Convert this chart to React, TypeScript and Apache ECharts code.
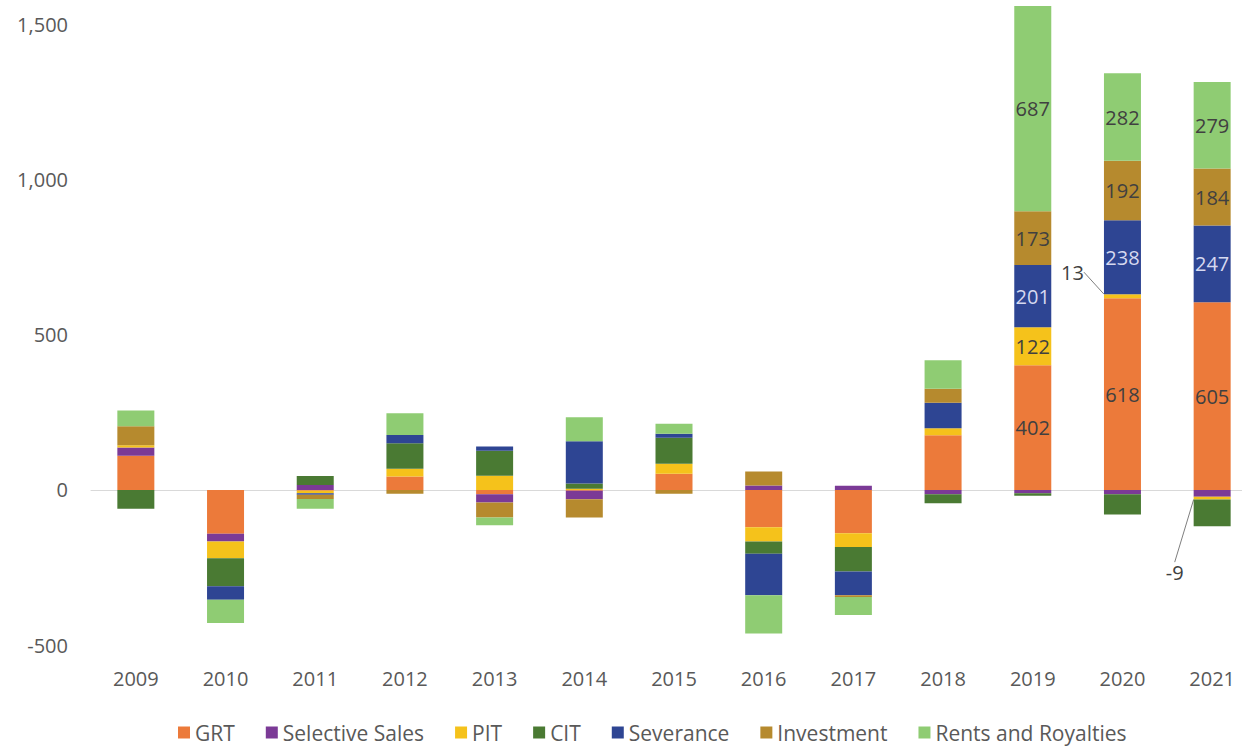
import React, { useEffect, useRef } from "react";
import * as echarts from "echarts";

const years = ["2009", "2010", "2011", "2012", "2013", "2014", "2015", "2016", "2017", "2018", "2019", "2020", "2021"];
const grt = [110, -141, -3, 43, -14, -3, 52, -120, -140, 176, 402, 618, 605];
const selectiveSales = [27, -25, 16, 0, -27, -27, 0, 14, 13, -14, -11, -14, -22];
const pit = [7, -54, -8, 25, 46, 4, 32, -46, -44, 23, 122, 13, -9];
const cit = [-61, -91, 29, 82, 80, 17, 84, -40, -79, -29, -8, -65, -86];
const severance = [0, -43, -5, 27, 14, 136, 13, -134, -77, 82, 201, 238, 247];
const investment = [61, 0, -13, -12, -48, -59, -12, 45, -5, 45, 173, 192, 184];
const rents = [51, -75, -32, 70, -25, 77, 32, -123, -58, 92, 687, 282, 279];

const seriesNames = ["GRT", "Selective Sales", "PIT", "CIT", "Severance", "Investment", "Rents and Royalties"];
const seriesValues = [grt, selectiveSales, pit, cit, severance, investment, rents];
const seriesColors = ["#EC7A3A", "#7B3A96", "#F5C21B", "#4A7A33", "#2E4593", "#B68A2E", "#8FCC73"];
const labelledSeries = [0, 2, 4, 5, 6];
const labelledYears = [10, 11, 12];

const FONT = "'Open Sans', sans-serif";

export default function App() {
  const ref = useRef<HTMLDivElement>(null);
  useEffect(() => {
    if (!ref.current) return;
    const chart = echarts.init(ref.current, null, { renderer: "svg" });
    const series = seriesNames.map((name, si) => {
      const data = seriesValues[si].map((v, i) => {
        if (!labelledSeries.includes(si) || !labelledYears.includes(i)) return v;
        if (si === 2 && i === 11) {
          return { value: v, label: { show: true, position: "left", distance: 20 }, labelLine: { show: true } };
        }
        if (si === 2 && i === 12) {
          return { value: v, label: { show: true, position: "left", distance: 10 }, labelLine: { show: true } };
        }
        return { value: v, label: { show: true } };
      });
      return {
        name,
        type: "bar",
        stack: "total",
        barWidth: 37,
        xAxisIndex: 0,
        data,
        itemStyle: { color: seriesColors[si] },
        label: {
          show: false,
          position: "inside",
          color: si === 4 ? "#D6D9F0" : "#404040",
          fontSize: 20,
          fontFamily: FONT,
        },
        labelLine: { show: false, lineStyle: { color: "#7F7F7F", width: 1 } },
        labelLayout:
          si === 2
            ? (p: any) => (p.dataIndex === 11 ? { dy: -24 } : p.dataIndex === 12 ? { dy: 74 } : {})
            : undefined,
      };
    });
    chart.setOption({
      animation: false,
      backgroundColor: "#ffffff",
      grid: {
        left: 91,
        right: -15,
        top: 6,
        bottom: 104,
        containLabel: false,
        outerBoundsMode: "none",
      },
      legend: {
        left: 173,
        top: 717,
        itemWidth: 12,
        itemHeight: 12,
        itemGap: 31,
        icon: "rect",
        textStyle: { color: "#595959", fontSize: 21, fontFamily: FONT },
        data: seriesNames,
      },
      xAxis: [
        {
          type: "category",
          data: years,
          position: "bottom",
          axisLine: { show: false, onZero: false },
          axisTick: { show: false },
          axisLabel: { color: "#595959", fontSize: 20, fontFamily: FONT, margin: 23 },
          splitLine: { show: false },
        },
        {
          type: "category",
          data: years,
          position: "bottom",
          axisLine: { show: true, onZero: true, lineStyle: { color: "#D9D9D9", width: 1 } },
          axisTick: { show: false },
          axisLabel: { show: false },
          splitLine: { show: false },
        },
      ],
      yAxis: {
        type: "value",
        min: -500,
        max: 1560,
        interval: 500,
        axisLine: { show: false },
        axisTick: { show: false },
        splitLine: { show: false },
        axisLabel: {
          color: "#595959",
          fontSize: 20,
          fontFamily: FONT,
          margin: 23,
          showMaxLabel: false,
          formatter: (v: number) => v.toLocaleString("en-US"),
        },
      },
      series,
    });
    return () => chart.dispose();
  }, []);
  return <div ref={ref} style={{ position: "absolute", left: 0, top: 0, width: 1242, height: 749 }} />;
}
